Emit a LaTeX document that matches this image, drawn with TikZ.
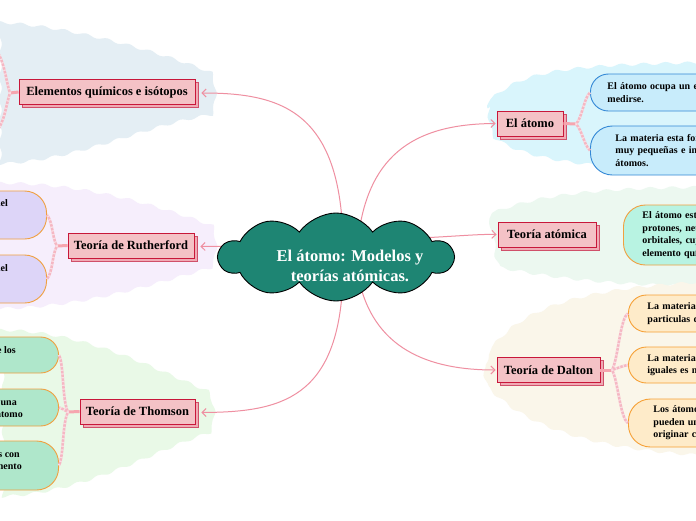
\documentclass[tikz,border=0pt]{standalone}
\usepackage{fontspec}
\setmainfont{Liberation Serif}
\usetikzlibrary{shapes.symbols,arrows.meta,shadows,decorations.pathmorphing}
\definecolor{cloudfill}{HTML}{1E8573}
\definecolor{boxfill}{HTML}{F4C2C6}
\definecolor{boxdraw}{HTML}{C8173A}
\definecolor{shfill}{HTML}{F0AAB4}
\definecolor{shdraw}{HTML}{D0506A}
\definecolor{conn}{HTML}{EF8FA1}
\definecolor{subconn}{HTML}{F5B7C3}
\definecolor{blobA}{HTML}{E4EEF4}
\definecolor{blobB}{HTML}{F6EEFC}
\definecolor{blobC}{HTML}{E9F9E7}
\definecolor{blobD}{HTML}{D9F5FC}
\definecolor{blobE}{HTML}{ECF8F0}
\definecolor{blobF}{HTML}{FAF6EA}
\definecolor{ruthfill}{HTML}{DDD5F8}
\definecolor{orangeb}{HTML}{F0A040}
\definecolor{thomfill}{HTML}{AFE7CB}
\definecolor{atomfill}{HTML}{C8ECFB}
\definecolor{atomdraw}{HTML}{3388D6}
\definecolor{tatfill}{HTML}{B8F3E2}
\definecolor{daltfill}{HTML}{FEEBC9}
\definecolor{daltdraw}{HTML}{F6A035}
\begin{document}
\begin{tikzpicture}[x=1pt,y=-1pt,
  blob/.style={decorate,decoration={snake,amplitude=1.4pt,segment length=22pt}},
  mainbox/.style={draw=boxdraw,fill=boxfill,line width=0.9pt,
    font=\bfseries\fontsize{12.5}{14}\selectfont,minimum height=25pt,inner xsep=3pt,
    copy shadow={shadow xshift=3pt,shadow yshift=-3pt,fill=shfill,draw=shdraw,line width=0.9pt}},
  bub/.style={rectangle,rounded corners=18pt,line width=0.9pt,
    font=\bfseries\fontsize{10}{12.6}\selectfont,align=left,text width=300pt},
  ltxt/.style={font=\bfseries\fontsize{10}{12.6}\selectfont,inner sep=0pt},
  mainconn/.style={draw=conn,line width=1pt,-{Straight Barb[length=4pt,width=8pt]}},
  substub/.style={draw=subconn!90!red,line width=3pt},
  subline/.style={draw=subconn,line width=2.6pt,
    postaction={draw=white,line width=2.6pt,dash pattern=on 1.2pt off 2.6pt,draw opacity=0.55}}]
\useasboundingbox (0,0) rectangle (696,520);
\clip (0,0) rectangle (696,520);
\fill[white] (0,0) rectangle (696,520);
% background blobs
\fill[blobA,blob] (-8,22) .. controls (60,25) and (150,50) .. (205,72)
  .. controls (212,82) and (212,110) .. (205,118)
  .. controls (140,128) and (70,165) .. (-8,167) -- cycle;
\fill[blobB,blob] (-8,183) .. controls (80,183) and (150,205) .. (205,225)
  .. controls (212,235) and (212,262) .. (205,270)
  .. controls (150,285) and (80,310) .. (-8,311) -- cycle;
\fill[blobC,blob] (-8,330) .. controls (80,330) and (150,370) .. (205,392)
  .. controls (212,402) and (212,425) .. (205,433)
  .. controls (150,450) and (80,495) .. (-8,497) -- cycle;
\fill[blobD,blob] (490,100) .. controls (520,75) and (560,68) .. (704,66)
  -- (704,181) .. controls (580,180) and (520,170) .. (490,147)
  .. controls (484,135) and (484,110) .. (490,100) -- cycle;
\fill[blobE,blob] (492,213) .. controls (540,195) and (600,190) .. (704,189)
  -- (704,281) .. controls (600,280) and (540,272) .. (492,262)
  .. controls (486,250) and (486,225) .. (492,213) -- cycle;
\fill[blobF,blob] (492,347) .. controls (520,315) and (570,292) .. (704,286)
  -- (704,458) .. controls (570,450) and (520,420) .. (492,392)
  .. controls (486,380) and (486,360) .. (492,347) -- cycle;
% main topic boxes
\node[mainbox,minimum width=176pt] (elem) at (107,92) {Elementos químicos e isótopos};
\node[mainbox,minimum width=126pt] (ruth) at (131,245.5) {Teoría de Rutherford};
\node[mainbox,minimum width=115pt] (thom) at (137.5,411.5) {Teoría de Thomson};
\node[mainbox,minimum width=66pt] (atomo) at (530,123.5) {El átomo};
\node[mainbox,minimum width=98pt] (tatom) at (547,234.5) {Teoría atómica};
\node[mainbox,minimum width=103pt] (dalton) at (548.5,370) {Teoría de Dalton};
% left sub bubbles
\node[bub,fill=ruthfill,draw=orangeb,rounded corners=22pt,minimum width=200pt,text width=180pt,minimum height=48pt,anchor=east] (r1) at (47,215) {};
\node[bub,fill=ruthfill,draw=orangeb,rounded corners=22pt,minimum width=200pt,text width=180pt,minimum height=48pt,anchor=east] (r2) at (47,279) {};
\node[ltxt,anchor=base east] (r1t) at (8,206) {del};
\node[ltxt,anchor=base east] (r2t) at (8,271) {del};
\node[bub,fill=thomfill,draw=orangeb,minimum width=200pt,text width=180pt,minimum height=36pt,anchor=east] (h1) at (59,355) {};
\node[bub,fill=thomfill,draw=orangeb,minimum width=200pt,text width=180pt,minimum height=37pt,anchor=east] (h2) at (59,407.5) {};
\node[bub,fill=thomfill,draw=orangeb,rounded corners=22pt,minimum width=200pt,text width=180pt,minimum height=49pt,anchor=east] (h3) at (59,465.5) {};
\node[ltxt,anchor=base east] (h1t) at (16,353) {de los};
\node[ltxt,anchor=base east] (h2a) at (17,405) {de una};
\node[ltxt,anchor=base east] (h2b) at (23,417) {del átomo};
\node[ltxt,anchor=base east] (h3a) at (20,457) {es con};
\node[ltxt,anchor=base east] (h3b) at (22,469) {elemento};
% right sub bubbles
\node[bub,fill=atomfill,draw=atomdraw,minimum height=37pt,inner xsep=17pt,anchor=west] (a1) at (590,92.5)
  {El átomo ocupa un espacio tan pequeño que no puede\\medirse.};
\node[bub,fill=atomfill,draw=atomdraw,rounded corners=22pt,minimum height=49pt,inner xsep=25pt,anchor=west] (a2) at (590,150.5)
  {La materia esta formada por partículas\\muy pequeñas e indivisibles llamadas\\átomos.};
\node[bub,fill=tatfill,draw=orangeb,rounded corners=22pt,minimum height=60pt,inner xsep=19pt,anchor=west] (t1) at (623,235)
  {El átomo está formado por\\protones, neutrones y electrones en\\orbitales, cuyo número define el\\elemento químico.};
\node[bub,fill=daltfill,draw=daltdraw,minimum height=37pt,inner xsep=19pt,anchor=west] (d1) at (628,313.5)
  {La materia está formada por\\particulas diminutas};
\node[bub,fill=daltfill,draw=daltdraw,minimum height=36pt,inner xsep=19pt,anchor=west] (d2) at (628,365)
  {La materia formada por átomos\\iguales es materia pura.};
\node[bub,fill=daltfill,draw=daltdraw,rounded corners=22pt,minimum height=48pt,inner xsep=25pt,anchor=west] (d3) at (628,423)
  {Los átomos de distintos elementos\\pueden unirse para\\originar compuestos.};
% sub connectors
\coordinate (j1) at (10,93);
\coordinate (e1) at (-4,50);
\coordinate (e2) at (-4,132);
\draw[substub] (elem.west) -- (j1);
\draw[subline] (j1) .. controls (6,82) and (5,62) .. (e1);
\draw[subline] (j1) .. controls (6,104) and (5,122) .. (e2);
\coordinate (j2) at (57,246);
\draw[substub] (ruth.west) -- (j2);
\draw[subline] (j2) .. controls (52,238) and (53,222) .. (r1.east);
\draw[subline] (j2) .. controls (52,254) and (53,272) .. (r2.east);
\coordinate (j3) at (68,412);
\draw[substub] (thom.west) -- (j3);
\draw[subline] (j3) .. controls (62,400) and (64,365) .. (h1.east);
\draw[subline] (j3) .. controls (64,410) and (62,408) .. (h2.east);
\draw[subline] (j3) .. controls (62,424) and (64,455) .. (h3.east);
\coordinate (j4) at (576,124);
\draw[substub] (atomo.east) -- (j4);
\draw[subline] (j4) .. controls (582,118) and (584,98) .. (a1.west);
\draw[subline] (j4) .. controls (582,130) and (584,145) .. (a2.west);
\coordinate (j6) at (612,370);
\draw[substub] (dalton.east) -- (j6);
\draw[subline] (j6) .. controls (618,360) and (620,318) .. (d1.west);
\draw[subline] (j6) .. controls (618,368) and (622,366) .. (d2.west);
\draw[subline] (j6) .. controls (618,380) and (620,418) .. (d3.west);
% main connectors
\coordinate (s1) at (343,240);
\coordinate (s2) at (250,246);
\coordinate (s3) at (343,275);
\coordinate (s4) at (358,240);
\coordinate (s5) at (420,238);
\coordinate (s6) at (358,275);
\draw[mainconn] (s1) .. controls (340,110) and (280,93) .. ([xshift=6pt,yshift=-1pt]elem.east);
\draw[mainconn] (s2) -- ([xshift=6pt,yshift=-1pt]ruth.east);
\draw[mainconn] (s3) .. controls (340,400) and (280,412) .. ([xshift=6pt,yshift=-1pt]thom.east);
\draw[mainconn] (s4) .. controls (368,150) and (420,124) .. ([xshift=-1pt]atomo.west);
\draw[mainconn] (s5) .. controls (460,236) and (480,234) .. ([xshift=-1pt]tatom.west);
\draw[mainconn] (s6) .. controls (372,350) and (430,370) .. ([xshift=-1pt]dalton.west);
% central cloud
\node[cloud,cloud puffs=10,cloud puff arc=110,aspect=2.7,minimum width=234pt,minimum height=88pt,
  inner sep=0pt,fill=cloudfill,draw=black,line width=0.9pt] (c) at (336,257) {};
\node[text=white,font=\bfseries\fontsize{16.5}{20}\selectfont,align=center] (ct) at (350,266)
  {El átomo: Modelos y\\teorías atómicas.};
\end{tikzpicture}
\end{document}
